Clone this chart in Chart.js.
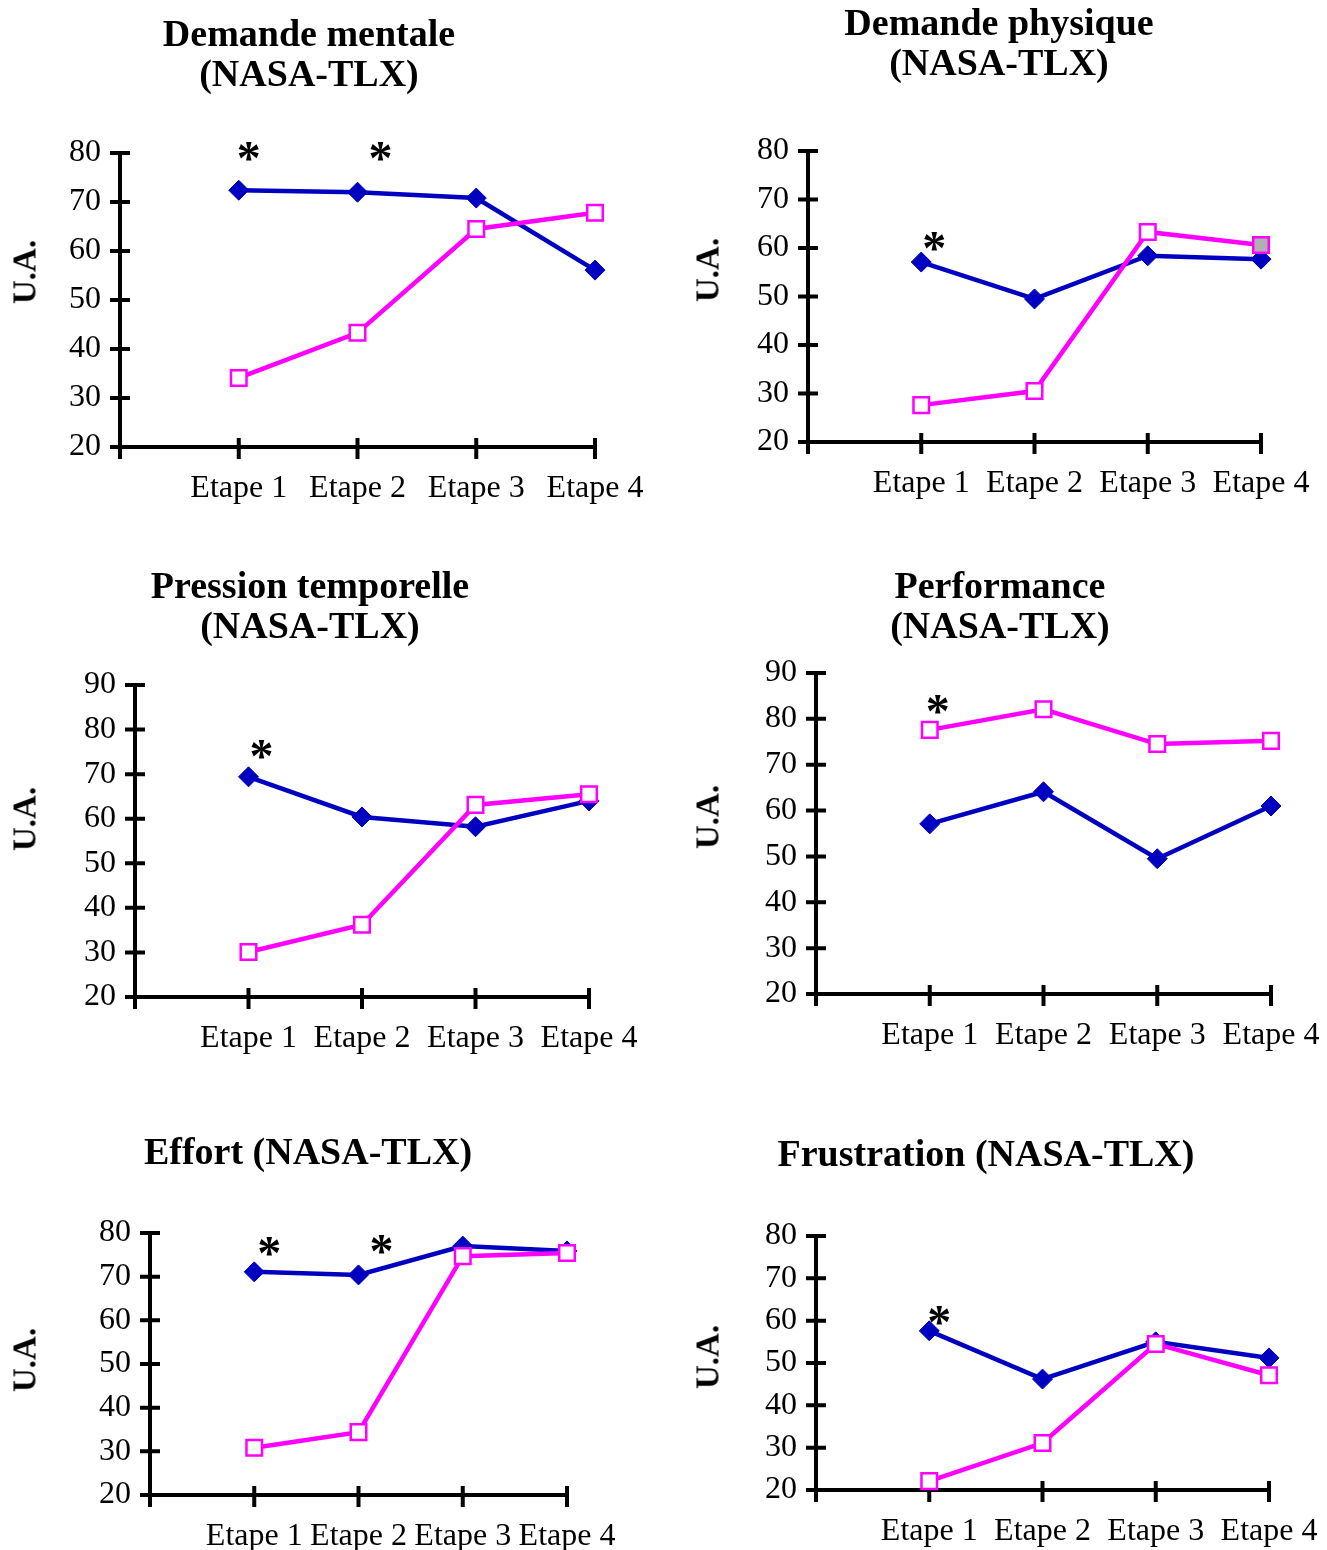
<!DOCTYPE html>
<html lang="fr">
<head>
<meta charset="utf-8">
<title>NASA-TLX par étape</title>
<script src="https://cdn.jsdelivr.net/npm/chart.js@4"></script>
<style>
  html, body { margin: 0; padding: 0; background: #fff; }
  body { position: relative; width: 1327px; height: 1550px; overflow: hidden; }
  canvas { position: absolute; }
  .titre {
    position: absolute; width: 600px; margin-left: -300px; text-align: center;
    font: bold 38px "Liberation Serif", "Times New Roman", serif; line-height: 40px;
    color: #000; white-space: nowrap;
  }
  .ua {
    position: absolute; font: bold 33px "Liberation Serif", "Times New Roman", serif;
    line-height: 33px; color: #000; white-space: nowrap;
    transform: translate(-50%, -50%) rotate(-90deg);
  }
</style>
</head>
<body>
<script>
// Étapes (la première position, vide, correspond à l'axe vertical)
const categories = ['', 'Etape 1', 'Etape 2', 'Etape 3', 'Etape 4'];

// Demande mentale
const mentaleBleu = [null, 72.4, 72.0, 70.8, 56.1];
const mentaleRose = [null, 34.1, 43.3, 64.5, 67.8];
const mentaleEchelle = [20, 80];
const mentaleEtoiles = [{ etape: 'Etape 1', niveau: 80.2 }, { etape: 'Etape 2', niveau: 80.2 }];

// Demande physique
const physiqueBleu = [null, 57.1, 49.5, 58.4, 57.7];
const physiqueRose = [null, 27.6, 30.5, 63.3, 60.6];
const physiqueEchelle = [20, 80];
const physiqueEtoiles = [{ etape: 'Etape 1', niveau: 61.2 }];

// Pression temporelle
const pressionBleu = [null, 69.4, 60.4, 58.2, 64.0];
const pressionRose = [null, 30.1, 36.2, 63.1, 65.5];
const pressionEchelle = [20, 90];
const pressionEtoiles = [{ etape: 'Etape 1', niveau: 75.4 }];

// Performance
const performanceBleu = [null, 57.1, 64.1, 49.5, 61.0];
const performanceRose = [null, 77.6, 82.1, 74.5, 75.2];
const performanceEchelle = [20, 90];
const performanceEtoiles = [{ etape: 'Etape 1', niveau: 83.0 }];

// Effort
const effortBleu = [null, 71.1, 70.4, 77.0, 75.9];
const effortRose = [null, 30.8, 34.4, 74.7, 75.4];
const effortEchelle = [20, 80];
const effortEtoiles = [{ etape: 'Etape 1', niveau: 76.8 }, { etape: 'Etape 2', niveau: 77.3 }];

// Frustration
const frustrationBleu = [null, 57.6, 46.2, 55.0, 51.2];
const frustrationRose = [null, 22.1, 31.1, 54.5, 47.1];
const frustrationEchelle = [20, 80];
const frustrationEtoiles = [{ etape: 'Etape 1', niveau: 61.1 }];

const BLEU = '#0000C0';
const ROSE = '#FF00FF';
const GRIS = '#B0B0B0';
const POLICE = '"Liberation Serif", "Times New Roman", serif';

// Mise en page de chaque graphique : boîte du canevas, zone de tracé, titre, légende d'axe
const panneaux = [
  { titre: ['Demande mentale', '(NASA-TLX)'], tc: [309, 33], ua: [25, 272],
    boite: [0, 0, 663, 530], zone: [120, 153, 595, 447], decal: [10, 23],
    bleu: mentaleBleu, rose: mentaleRose, echelle: mentaleEchelle, etoiles: mentaleEtoiles },
  { titre: ['Demande physique', '(NASA-TLX)'], tc: [999, 22], ua: [708, 270],
    boite: [663, 0, 664, 530], zone: [808, 151, 1261, 442], decal: [13],
    bleu: physiqueBleu, rose: physiqueRose, echelle: physiqueEchelle, etoiles: physiqueEtoiles,
    remplissage: ['#fff', '#fff', '#fff', '#fff', GRIS] },
  { titre: ['Pression temporelle', '(NASA-TLX)'], tc: [310, 585], ua: [25, 819],
    boite: [0, 530, 663, 560], zone: [135, 685, 589, 997], decal: [13],
    bleu: pressionBleu, rose: pressionRose, echelle: pressionEchelle, etoiles: pressionEtoiles },
  { titre: ['Performance', '(NASA-TLX)'], tc: [1000, 585], ua: [708, 817],
    boite: [663, 530, 664, 560], zone: [816, 673, 1271, 994], decal: [8],
    bleu: performanceBleu, rose: performanceRose, echelle: performanceEchelle, etoiles: performanceEtoiles },
  { titre: ['Effort (NASA-TLX)'], tc: [308, 1151], ua: [25, 1360],
    boite: [0, 1090, 663, 460], zone: [150, 1233, 567, 1495], decal: [15, 23],
    bleu: effortBleu, rose: effortRose, echelle: effortEchelle, etoiles: effortEtoiles },
  { titre: ['Frustration (NASA-TLX)'], tc: [986, 1153], ua: [708, 1357],
    boite: [663, 1090, 664, 460], zone: [816, 1236, 1269, 1490], decal: [10],
    bleu: frustrationBleu, rose: frustrationRose, echelle: frustrationEchelle, etoiles: frustrationEtoiles }
];

// Graduations croisées sur les deux axes, puis astérisques de significativité
const croix = {
  id: 'croix',
  beforeDatasetsDraw(chart, args, opts) {
    const { ctx, scales: { x, y } } = chart;
    const x0 = x.getPixelForValue(0);
    const yb = y.getPixelForValue(y.min);
    ctx.save();
    ctx.strokeStyle = '#000';
    ctx.lineWidth = 4;
    ctx.lineCap = 'butt';
    ctx.beginPath();
    y.ticks.forEach(t => {
      const py = y.getPixelForValue(t.value);
      ctx.moveTo(x0 - 10, py); ctx.lineTo(x0 + 10, py);
    });
    categories.forEach((c, i) => {
      const px = x.getPixelForValue(i);
      ctx.moveTo(px, yb - 9); ctx.lineTo(px, yb + 12);
    });
    ctx.stroke();
    ctx.restore();
  },
  afterDatasetsDraw(chart, args, opts) {
    const { ctx, scales: { x, y } } = chart;
    ctx.save();
    ctx.fillStyle = '#000';
    ctx.font = 'bold 48px ' + POLICE;
    ctx.textAlign = 'center';
    ctx.textBaseline = 'alphabetic';
    opts.etoiles.forEach((e, k) => {
      const px = x.getPixelForValue(categories.indexOf(e.etape)) + (opts.decal[k] || 0);
      const py = y.getPixelForValue(e.niveau);
      ctx.fillText('*', px, py + 22);
    });
    ctx.restore();
  }
};

panneaux.forEach((p, n) => {
  const [bl, bt, bw, bh] = p.boite;
  const [x0, y0, x1, y1] = p.zone;

  const cv = document.createElement('canvas');
  cv.width = bw; cv.height = bh;
  cv.style.left = bl + 'px'; cv.style.top = bt + 'px';
  cv.style.width = bw + 'px'; cv.style.height = bh + 'px';
  document.body.appendChild(cv);

  const t = document.createElement('div');
  t.className = 'titre';
  t.style.left = p.tc[0] + 'px';
  t.style.top = (p.tc[1] - 20) + 'px';
  t.innerHTML = p.titre.join('<br>');
  document.body.appendChild(t);

  const u = document.createElement('div');
  u.className = 'ua';
  u.style.left = p.ua[0] + 'px';
  u.style.top = p.ua[1] + 'px';
  u.textContent = 'U.A.';
  document.body.appendChild(u);

  const police = { family: POLICE, size: 32, lineHeight: 1.2 };

  new Chart(cv, {
    type: 'line',
    data: {
      labels: categories,
      datasets: [
        {
          data: p.bleu, borderColor: BLEU, backgroundColor: BLEU, borderWidth: 4.5,
          pointStyle: 'rectRot', pointRadius: 10, pointBackgroundColor: BLEU,
          pointBorderColor: BLEU, pointBorderWidth: 1, tension: 0, order: 1, clip: false
        },
        {
          data: p.rose, borderColor: ROSE, backgroundColor: ROSE, borderWidth: 4.5,
          pointStyle: 'rect', pointRadius: 11,
          pointBackgroundColor: p.remplissage || '#fff',
          pointBorderColor: ROSE, pointBorderWidth: 2.5, tension: 0, order: 0, clip: false
        }
      ]
    },
    options: {
      responsive: false,
      animation: false,
      events: [],
      devicePixelRatio: 1,
      layout: { padding: { left: 0, top: y0 - bt, right: bl + bw - x1, bottom: 0 } },
      plugins: {
        legend: { display: false },
        tooltip: { enabled: false },
        croix: { etoiles: p.etoiles, decal: p.decal }
      },
      scales: {
        x: {
          type: 'category', offset: false,
          grid: { display: false },
          border: { display: true, color: '#000', width: 4 },
          ticks: { color: '#000', font: police, padding: 14, maxRotation: 0, minRotation: 0, autoSkip: false },
          afterFit(s) {
            s.height = bt + bh - y1;
            s.paddingLeft = 0;
            s.paddingRight = 0;
          }
        },
        y: {
          min: p.echelle[0], max: p.echelle[1],
          grid: { display: false },
          border: { display: true, color: '#000', width: 4 },
          ticks: { color: '#000', font: police, padding: 11, stepSize: 10, autoSkip: false },
          afterFit(s) { s.width = x0 - bl; }
        }
      }
    },
    plugins: [croix]
  });
});
</script>
</body>
</html>
